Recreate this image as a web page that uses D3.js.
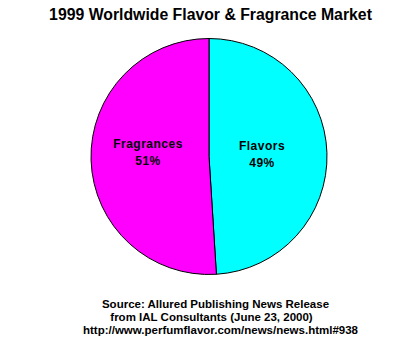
<!DOCTYPE html>
<html><head><meta charset="utf-8">
<script src="https://cdn.jsdelivr.net/npm/d3@7"></script>
<style>html,body{margin:0;padding:0;background:#fff;}</style>
</head><body>
<svg id="c" width="413" height="358"></svg>
<script>
const categories = ["Flavors", "Fragrances"];
const values = [49, 51];
const colors = ["#00FFFF", "#FF00FF"];
const title = "1999 Worldwide Flavor & Fragrance Market";
const sourceLines = [
  "Source: Allured Publishing News Release",
  "from IAL Consultants (June 23, 2000)",
  "http://www.perfumflavor.com/news/news.html#938"
];

const svg = d3.select("#c");
const cx = 209, cy = 156.5, r = 118;

svg.append("text").attr("x", 210.5).attr("y", 20).attr("text-anchor", "middle")
  .attr("font-family", "Arial, Liberation Sans, sans-serif").attr("font-weight", "bold")
  .attr("font-size", 15.8).attr("fill", "#000").text(title);

const pie = d3.pie().sort(null).value(d => d)(values);
const arc = d3.arc().innerRadius(0).outerRadius(r);
const g = svg.append("g").attr("transform", `translate(${cx},${cy})`);
g.selectAll("path").data(pie).join("path")
  .attr("d", arc).attr("fill", (d, i) => colors[i])
  .attr("stroke", "#000").attr("stroke-width", 1);

const labelPos = [[262, 150], [148, 148]];
const fmt = d3.format(".0f");
pie.forEach((d, i) => {
  const t = svg.append("text").attr("text-anchor", "middle")
    .attr("font-family", "Arial, Liberation Sans, sans-serif").attr("font-weight", "bold")
    .attr("font-size", 12).attr("letter-spacing", 0.5).attr("fill", "#000");
  t.append("tspan").attr("x", labelPos[i][0]).attr("y", labelPos[i][1]).text(categories[i]);
  t.append("tspan").attr("x", labelPos[i][0]).attr("y", labelPos[i][1] + 17).text(fmt(values[i]) + "%");
});

const sourceX = [215.5, 211.5, 220.5];
sourceLines.forEach((s, i) => {
  svg.append("text").attr("x", sourceX[i]).attr("y", 308 + i * 13).attr("text-anchor", "middle")
    .attr("font-family", "Arial, Liberation Sans, sans-serif").attr("font-weight", "bold")
    .attr("font-size", 11.5).attr("fill", "#000").text(s);
});
</script>
</body></html>
